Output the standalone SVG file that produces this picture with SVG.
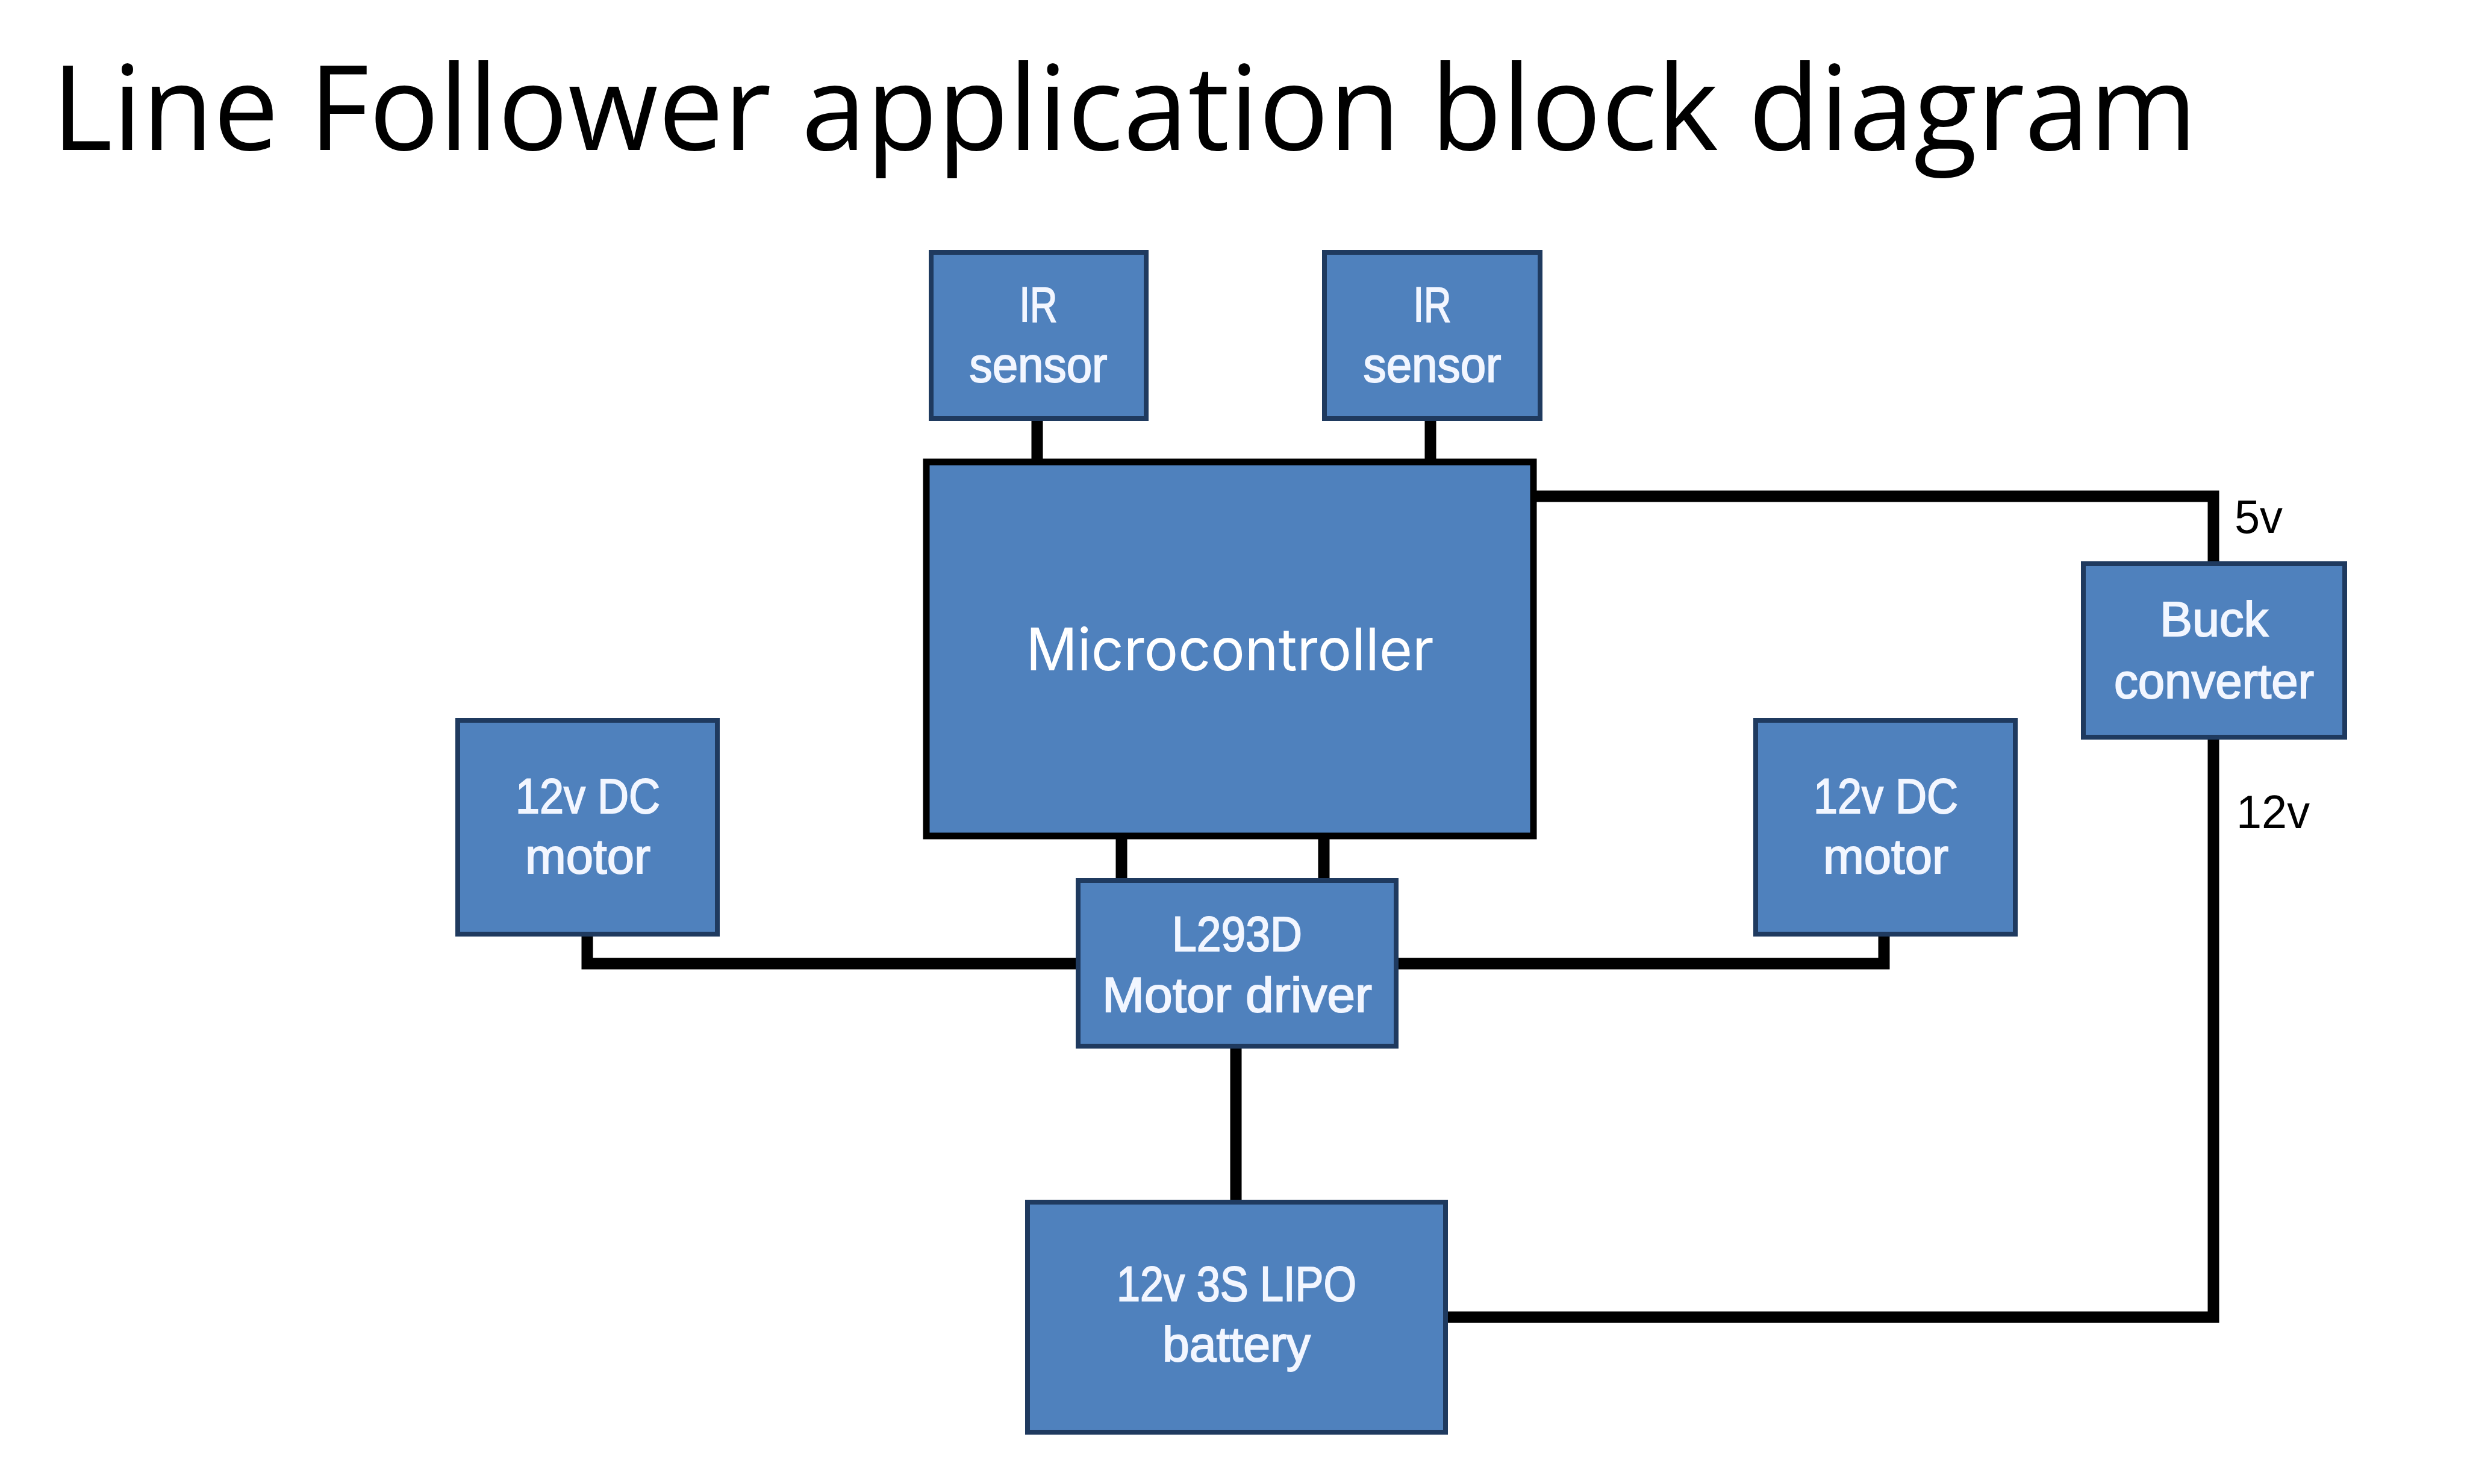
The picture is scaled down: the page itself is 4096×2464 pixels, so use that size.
<svg xmlns="http://www.w3.org/2000/svg" width="4096" height="2464" viewBox="0 0 4096 2464">
<style>
.box{fill:#4f81bd;stroke:#1f3a5f;stroke-width:8}
.mcu{fill:#4f81bd;stroke:#000;stroke-width:11}
.wire{fill:none;stroke:#000;stroke-width:19;stroke-linejoin:miter;stroke-linecap:butt}
.lbl{font-family:"Liberation Sans",Arial,sans-serif;font-size:82px;fill:#f2f6ff;stroke:#f2f6ff;stroke-width:2;text-anchor:middle}
.volt{font-family:"Liberation Sans",Arial,sans-serif;font-size:78px;fill:#000}
.title{font-family:"Open Sans","Noto Sans",sans-serif;font-size:196px;fill:#000}
</style>
<rect width="4096" height="2464" fill="#fff"/>
<text class="title" x="86" y="249" textLength="3562" lengthAdjust="spacingAndGlyphs">Line Follower application block diagram</text>
<g id="connectors">
<path class="wire" d="M1722 695 V766"/>
<path class="wire" d="M2375 695 V766"/>
<path class="wire" d="M1862 1390 V1461"/>
<path class="wire" d="M2198 1390 V1461"/>
<path class="wire" d="M975 1551 V1600 H1790"/>
<path class="wire" d="M3128 1551 V1600 H2319"/>
<path class="wire" d="M2052 1739 V1994"/>
<path class="wire" d="M2551 824 H3675 V936"/>
<path class="wire" d="M3675 1225 V2187 H2403"/>
<text class="volt" x="3710" y="885" textLength="80" lengthAdjust="spacingAndGlyphs">5v</text>
<text class="volt" x="3713" y="1375" textLength="122" lengthAdjust="spacingAndGlyphs">12v</text>
</g>
<g id="ir1">
<rect class="box" x="1546" y="419" width="357" height="276"/>
<text class="lbl" x="1724" y="534" textLength="63" lengthAdjust="spacingAndGlyphs">IR</text>
<text class="lbl" x="1724" y="634" textLength="229" lengthAdjust="spacingAndGlyphs">sensor</text>
</g>
<g id="ir2">
<rect class="box" x="2199" y="419" width="358" height="276"/>
<text class="lbl" x="2378" y="534" textLength="63" lengthAdjust="spacingAndGlyphs">IR</text>
<text class="lbl" x="2378" y="634" textLength="229" lengthAdjust="spacingAndGlyphs">sensor</text>
</g>
<g id="mcu">
<rect class="mcu" x="1538" y="767" width="1008" height="621"/>
<text x="2042" y="1113" font-family="Inter,Roboto,sans-serif" font-size="97" fill="#fff" text-anchor="middle" textLength="677" lengthAdjust="spacingAndGlyphs">Microcontroller</text>
</g>
<g id="motor-left">
<rect class="box" x="760" y="1196" width="431" height="355"/>
<text class="lbl" x="976" y="1350" textLength="240" lengthAdjust="spacingAndGlyphs">12v DC</text>
<text class="lbl" x="976" y="1450" textLength="208" lengthAdjust="spacingAndGlyphs">motor</text>
</g>
<g id="motor-right">
<rect class="box" x="2915" y="1196" width="431" height="355"/>
<text class="lbl" x="3131" y="1350" textLength="240" lengthAdjust="spacingAndGlyphs">12v DC</text>
<text class="lbl" x="3131" y="1450" textLength="208" lengthAdjust="spacingAndGlyphs">motor</text>
</g>
<g id="l293d">
<rect class="box" x="1790" y="1462" width="528" height="275"/>
<text class="lbl" x="2054" y="1579" textLength="216" lengthAdjust="spacingAndGlyphs">L293D</text>
<text class="lbl" x="2054" y="1680" textLength="448" lengthAdjust="spacingAndGlyphs">Motor driver</text>
</g>
<g id="buck">
<rect class="box" x="3459" y="936" width="434" height="288"/>
<text class="lbl" x="3676" y="1056" textLength="180" lengthAdjust="spacingAndGlyphs">Buck</text>
<text class="lbl" x="3676" y="1159" textLength="332" lengthAdjust="spacingAndGlyphs">converter</text>
</g>
<g id="battery">
<rect class="box" x="1706" y="1996" width="694" height="382"/>
<text class="lbl" x="2053" y="2160" textLength="398" lengthAdjust="spacingAndGlyphs">12v 3S LIPO</text>
<text class="lbl" x="2053" y="2260" textLength="246" lengthAdjust="spacingAndGlyphs">battery</text>
</g>
</svg>
